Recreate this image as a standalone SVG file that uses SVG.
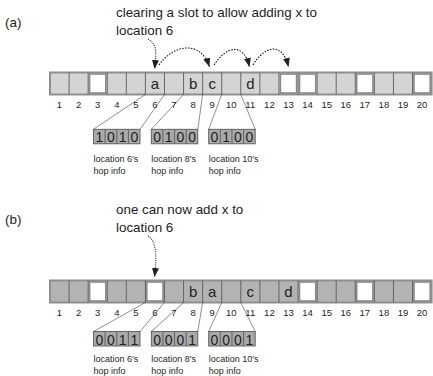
<svg xmlns="http://www.w3.org/2000/svg" width="433" height="376" viewBox="0 0 433 376">
<defs>
<style>
text{font-family:"Liberation Sans",Arial,sans-serif;fill:#231f20}
.t{font-size:13.4px}
.n{font-size:9.5px;text-anchor:middle}
.l{font-size:15px;text-anchor:middle}
.bit{font-size:14px;text-anchor:middle}
.lab{font-size:9px}
.arrA{fill:#d4d4d4;stroke:#8f8f8f;stroke-width:2}
.arrB{fill:#b3b3b3;stroke:#8f8f8f;stroke-width:2}
.div{stroke:#5a5a5a;stroke-width:0.9}
.emp{fill:#fff;stroke:#8a8a8a;stroke-width:1.6}
.hop{fill:#a9a9a9;stroke:#5a5a5a;stroke-width:0.9}
.lead{stroke:#231f20;stroke-width:0.5;fill:none}
.dash{fill:none;stroke:#231f20;stroke-width:1.1;stroke-dasharray:1.6 1.3}
.dot{fill:none;stroke:#231f20;stroke-width:1.1;stroke-dasharray:1 1.2}
</style>
<marker id="ah" markerUnits="userSpaceOnUse" markerWidth="10" markerHeight="8" refX="9" refY="3.5" orient="auto" viewBox="0 0 10 8">
<path d="M0,0 L9,3.5 L0,7 z" fill="#231f20"/>
</marker>
<g id="divs">
<path class="div" d="M69.08,0v22M88.16,0v22M107.24,0v22M126.32,0v22M145.4,0v22M164.48,0v22M183.56,0v22M202.64,0v22M221.72,0v22M240.8,0v22M259.88,0v22M278.96,0v22M298.04,0v22M317.12,0v22M336.2,0v22M355.28,0v22M374.36,0v22M393.44,0v22M412.52,0v22"/>
</g>
<g id="nums">
<text class="n" x="59.5" y="0">1</text><text class="n" x="78.6" y="0">2</text><text class="n" x="97.7" y="0">3</text><text class="n" x="116.8" y="0">4</text><text class="n" x="135.9" y="0">5</text><text class="n" x="154.9" y="0">6</text><text class="n" x="174" y="0">7</text><text class="n" x="193.1" y="0">8</text><text class="n" x="212.2" y="0">9</text><text class="n" x="231.3" y="0">10</text><text class="n" x="250.3" y="0">11</text><text class="n" x="269.4" y="0">12</text><text class="n" x="288.5" y="0">13</text><text class="n" x="307.6" y="0">14</text><text class="n" x="326.7" y="0">15</text><text class="n" x="345.7" y="0">16</text><text class="n" x="364.8" y="0">17</text><text class="n" x="383.9" y="0">18</text><text class="n" x="403" y="0">19</text><text class="n" x="422.1" y="0">20</text>
</g>
<g id="hopgrid">
<rect class="hop" x="0" y="0" width="46.5" height="14.5"/>
<path class="div" d="M11.6,0v14.5M23.25,0v14.5M34.9,0v14.5"/>
</g>
</defs>

<!-- (a) -->
<g id="label-a"><text class="t" x="5" y="27">(a)</text></g>
<g id="caption-a"><text class="t" x="116" y="17">clearing a slot to allow adding x to</text><text class="t" x="116" y="35">location 6</text></g>

<g id="array-a">
<rect class="arrA" x="50" y="72.5" width="381.6" height="22"/>
<use href="#divs" y="72.5"/>
<rect class="emp" x="89.6" y="74" width="16.2" height="19"/>
<rect class="emp" x="280.4" y="74" width="16.2" height="19"/>
<rect class="emp" x="299.5" y="74" width="16.2" height="19"/>
<rect class="emp" x="356.7" y="74" width="16.2" height="19"/>
<rect class="emp" x="414" y="74" width="16.2" height="19"/>
<text class="l" x="154.9" y="89">a</text>
<text class="l" x="193.1" y="89">b</text>
<text class="l" x="212.2" y="89">c</text>
<text class="l" x="250.3" y="89">d</text>
<use href="#nums" y="107.5"/>
</g>

<g id="hop6-a"><use href="#hopgrid" x="93.5" y="129.3"/>
<text class="bit" x="99.3" y="142.3">1</text><text class="bit" x="110.9" y="142.3">0</text><text class="bit" x="122.6" y="142.3">1</text><text class="bit" x="134.3" y="142.3">0</text>
<text class="lab" x="93.5" y="162">location 6's</text><text class="lab" x="93.5" y="174">hop info</text></g>
<g id="hop8-a"><use href="#hopgrid" x="151.3" y="129.3"/>
<text class="bit" x="157.1" y="142.3">0</text><text class="bit" x="168.7" y="142.3">1</text><text class="bit" x="180.4" y="142.3">0</text><text class="bit" x="192.1" y="142.3">0</text>
<text class="lab" x="151.3" y="162">location 8's</text><text class="lab" x="151.3" y="174">hop info</text></g>
<g id="hop10-a"><use href="#hopgrid" x="208.7" y="129.3"/>
<text class="bit" x="214.5" y="142.3">0</text><text class="bit" x="226.1" y="142.3">1</text><text class="bit" x="237.8" y="142.3">0</text><text class="bit" x="249.5" y="142.3">0</text>
<text class="lab" x="208.7" y="162">location 10's</text><text class="lab" x="208.7" y="174">hop info</text></g>

<!-- (b) -->
<g id="label-b"><text class="t" x="5" y="224">(b)</text></g>
<g id="caption-b"><text class="t" x="116" y="214">one can now add x to</text><text class="t" x="116" y="232">location 6</text></g>

<g id="array-b">
<rect class="arrB" x="50" y="280.5" width="381.6" height="22"/>
<use href="#divs" y="280.5"/>
<rect class="emp" x="89.6" y="282" width="16.2" height="19"/>
<rect class="emp" x="146.8" y="282" width="16.2" height="19"/>
<rect class="emp" x="299.5" y="282" width="16.2" height="19"/>
<rect class="emp" x="356.7" y="282" width="16.2" height="19"/>
<rect class="emp" x="414" y="282" width="16.2" height="19"/>
<text class="l" x="193.1" y="297">b</text>
<text class="l" x="212.2" y="297">a</text>
<text class="l" x="250.3" y="297">c</text>
<text class="l" x="288.5" y="297">d</text>
<use href="#nums" y="315.5"/>
</g>

<g id="hop6-b"><use href="#hopgrid" x="93.5" y="331.5"/>
<text class="bit" x="99.3" y="344.5">0</text><text class="bit" x="110.9" y="344.5">0</text><text class="bit" x="122.6" y="344.5">1</text><text class="bit" x="134.3" y="344.5">1</text>
<text class="lab" x="93.5" y="362">location 6's</text><text class="lab" x="93.5" y="374">hop info</text></g>
<g id="hop8-b"><use href="#hopgrid" x="151.3" y="331.5"/>
<text class="bit" x="157.1" y="344.5">0</text><text class="bit" x="168.7" y="344.5">0</text><text class="bit" x="180.4" y="344.5">0</text><text class="bit" x="192.1" y="344.5">1</text>
<text class="lab" x="151.3" y="362">location 8's</text><text class="lab" x="151.3" y="374">hop info</text></g>
<g id="hop10-b"><use href="#hopgrid" x="208.7" y="331.5"/>
<text class="bit" x="214.5" y="344.5">0</text><text class="bit" x="226.1" y="344.5">0</text><text class="bit" x="237.8" y="344.5">0</text><text class="bit" x="249.5" y="344.5">1</text>
<text class="lab" x="208.7" y="362">location 10's</text><text class="lab" x="208.7" y="374">hop info</text></g>

<g id="connectors">
<path class="lead" d="M145.4,94.5L93.5,129.3M164.5,94.5L140,129.3M183.6,94.5L151.3,129.3M202.6,94.5L197.8,129.3M221.7,94.5L208.7,129.3M240.8,94.5L255.2,129.3"/>
<path class="lead" d="M145.4,302.5L93.5,331.5M164.5,302.5L140,331.5M183.6,302.5L151.3,331.5M202.6,302.5L197.8,331.5M221.7,302.5L208.7,331.5M240.8,302.5L255.2,331.5"/>
<path class="dot" marker-end="url(#ah)" d="M148,39 C158,44 156,55 154.6,69"/>
<path class="dash" marker-end="url(#ah)" d="M159,65 C172,46 200,38 209.5,67"/>
<path class="dash" marker-end="url(#ah)" d="M214,65 C225,48 243,40 249.5,67"/>
<path class="dash" marker-end="url(#ah)" d="M253,65 C264,47 282,40 288.5,67"/>
<path class="dot" marker-end="url(#ah)" d="M148,236 C158,241 156,263 154.6,277"/>
</g>
</svg>
